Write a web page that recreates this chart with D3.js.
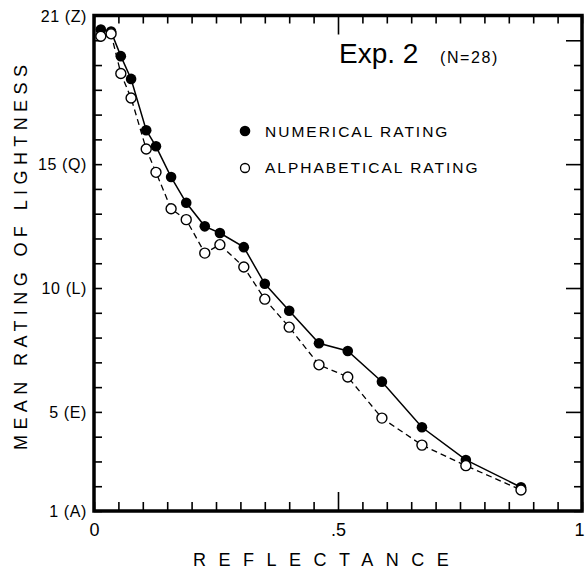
<!DOCTYPE html>
<html><head><meta charset="utf-8">
<script src="https://cdn.jsdelivr.net/npm/d3@7"></script>
<style>
html,body{margin:0;padding:0;background:#fff;}
svg{display:block;font-family:"Liberation Sans",Arial,Helvetica,sans-serif;}
</style></head>
<body><svg id="chart" width="585" height="578"></svg>
<script>
const reflectance = [0.014, 0.035, 0.055, 0.076, 0.107, 0.127, 0.158, 0.189, 0.227, 0.258, 0.307, 0.350, 0.400, 0.461, 0.520, 0.590, 0.672, 0.762, 0.875];
const numericalRating = [20.43, 20.35, 19.36, 18.44, 16.37, 15.72, 14.48, 13.44, 12.49, 12.22, 11.65, 10.17, 9.08, 7.77, 7.46, 6.22, 4.38, 3.06, 1.96];
const alphabeticalRating = [20.16, 20.26, 18.66, 17.67, 15.61, 14.67, 13.20, 12.76, 11.41, 11.75, 10.85, 9.55, 8.42, 6.90, 6.41, 4.75, 3.66, 2.83, 1.85];
const yTickLabels = {21: "21 (Z)", 15: "15 (Q)", 10: "10 (L)", 5: "5 (E)", 1: "1 (A)"};
const xTickLabels = {0: "0", 0.5: ".5", 1: "1"};
const seriesNames = ["NUMERICAL RATING", "ALPHABETICAL RATING"];

const svg = d3.select("#chart");
const L = 94, R = 582, T = 15.5, B = 511;
const x = d3.scaleLinear().domain([0, 1]).range([L, R]);
const y = d3.scaleLinear().domain([1, 21]).range([B, T]);

const xTicks = d3.range(0, 21).map(i => i / 20);
const yTicks = d3.range(1, 22);
const isMajorX = v => Math.abs(v - 0.5) < 1e-9;

// bottom axis
const gB = svg.append("g").attr("transform", `translate(0,${B})`)
  .call(d3.axisBottom(x).tickValues(xTicks).tickSize(0).tickPadding(0)
    .tickFormat(d => { const k = Math.round(d * 20) / 20; return xTickLabels[k] !== undefined ? xTickLabels[k] : ""; }));
gB.select(".domain").remove();
gB.selectAll(".tick line").attr("y2", d => isMajorX(d) ? -19 : -9).attr("stroke", "#000").attr("stroke-width", 1.6);
gB.selectAll(".tick text").attr("y", 25).attr("dy", null).attr("font-size", 18).attr("fill", "#000")
  .attr("dx", d => d > 0.99 ? -3 : 0);

// top axis
const gT = svg.append("g").attr("transform", `translate(0,${T})`)
  .call(d3.axisTop(x).tickValues(xTicks).tickSize(0).tickFormat(""));
gT.select(".domain").remove();
gT.selectAll(".tick line").attr("y2", d => isMajorX(d) ? 19 : 8).attr("stroke", "#000").attr("stroke-width", 1.6);

// left axis
const gL = svg.append("g").attr("transform", `translate(${L},0)`)
  .call(d3.axisLeft(y).tickValues(yTicks).tickSize(0).tickPadding(7)
    .tickFormat(d => yTickLabels[d] || ""));
gL.select(".domain").remove();
gL.selectAll(".tick line").attr("x2", 8).attr("stroke", "#000").attr("stroke-width", 1.6);
gL.selectAll(".tick text").attr("font-size", 16).attr("letter-spacing", 0.6).attr("fill", "#000").attr("dy", "0.36em");

// right axis
const gR = svg.append("g").attr("transform", `translate(${R},0)`)
  .call(d3.axisRight(y).tickValues(yTicks).tickSize(0).tickFormat(""));
gR.select(".domain").remove();
gR.selectAll(".tick line").attr("x2", d => d % 5 === 0 ? -16 : -8).attr("stroke", "#000").attr("stroke-width", 1.6);

// frame
svg.append("rect").attr("x", L).attr("y", T).attr("width", R - L).attr("height", B - T)
  .attr("fill", "none").attr("stroke", "#000").attr("stroke-width", 3.5);

// lines
const numData = reflectance.map((r, i) => [r, numericalRating[i]]);
const alpData = reflectance.map((r, i) => [r, alphabeticalRating[i]]);
const line = d3.line().x(d => x(d[0])).y(d => y(d[1]));
svg.append("path").attr("d", line(numData)).attr("fill", "none").attr("stroke", "#000").attr("stroke-width", 1.5);
svg.append("path").attr("d", line(alpData)).attr("fill", "none").attr("stroke", "#000").attr("stroke-width", 1.3).attr("stroke-dasharray", "6,4");

svg.append("g").selectAll("circle").data(numData).join("circle")
  .attr("cx", d => x(d[0])).attr("cy", d => y(d[1])).attr("r", 5.3).attr("fill", "#000");
svg.append("g").selectAll("circle").data(alpData).join("circle")
  .attr("cx", d => x(d[0])).attr("cy", d => y(d[1])).attr("r", 5).attr("fill", "#fff").attr("stroke", "#000").attr("stroke-width", 1.4);

// title
svg.append("text").attr("x", 339).attr("y", 63).attr("font-size", 28).text("Exp. 2");
svg.append("text").attr("x", 440).attr("y", 63).attr("font-size", 16).attr("letter-spacing", 1.6).text("(N=28)");

// legend
svg.append("circle").attr("cx", 245).attr("cy", 131).attr("r", 5.3).attr("fill", "#000");
svg.append("text").attr("x", 265).attr("y", 137).attr("font-size", 15.5).attr("letter-spacing", 2.0).text(seriesNames[0]);
svg.append("circle").attr("cx", 245).attr("cy", 168).attr("r", 4.5).attr("fill", "#fff").attr("stroke", "#000").attr("stroke-width", 1.3);
svg.append("text").attr("x", 265).attr("y", 173).attr("font-size", 15.5).attr("letter-spacing", 2.0).text(seriesNames[1]);

// axis titles
svg.append("text").attr("x", 193).attr("y", 566).attr("font-size", 18).attr("letter-spacing", 12.5).text("REFLECTANCE");
svg.append("text").attr("transform", "translate(27,450) rotate(-90)").attr("font-size", 18).attr("letter-spacing", 5.4).text("MEAN RATING OF LIGHTNESS");
</script></body></html>
